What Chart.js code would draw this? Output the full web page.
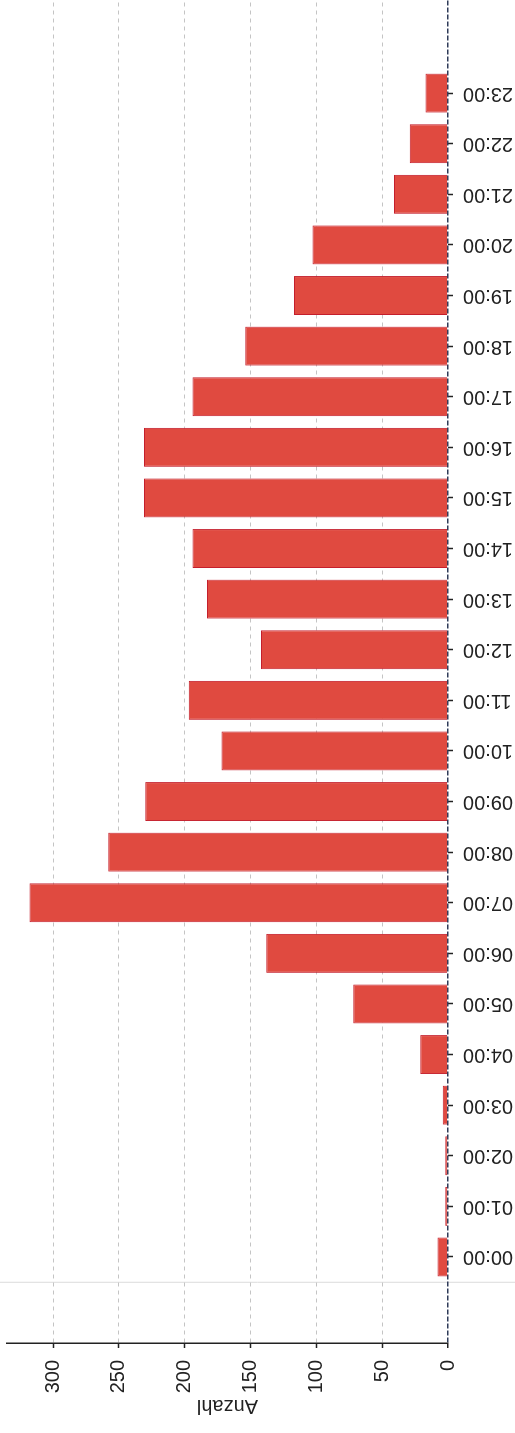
<!DOCTYPE html>
<html>
<head>
<meta charset="utf-8">
<script src="https://cdn.jsdelivr.net/npm/chart.js@4.4.0/dist/chart.umd.min.js"></script>
<style>
  html, body { margin: 0; padding: 0; background: #fff; overflow: hidden; }
  #wrap {
    position: absolute; left: 0; top: 0;
    width: 1433px; height: 515px;
    transform-origin: 0 0;
    transform: translateY(1433px) rotate(-90deg);
  }
</style>
</head>
<body>
<div id="wrap"><canvas id="chart" width="1433" height="515"></canvas></div>
<script>
// Stunden und Anzahl pro Stunde
var hours = ['00:00', '01:00', '02:00', '03:00', '04:00', '05:00', '06:00', '07:00',
             '08:00', '09:00', '10:00', '11:00', '12:00', '13:00', '14:00', '15:00',
             '16:00', '17:00', '18:00', '19:00', '20:00', '21:00', '22:00', '23:00'];
var counts = [8, 2, 2, 4, 21, 72, 138, 318, 258, 230, 172, 197,
              142, 183, 194, 231, 231, 194, 154, 117, 103, 41, 29, 17];
var yTicks = [0, 50, 100, 150, 200, 250, 300];

Chart.defaults.font.family = '"Liberation Sans", Arial, sans-serif';
Chart.defaults.font.size = 20;
Chart.defaults.color = '#222';

var points = [];
for (var i = 0; i < hours.length; i++) {
    points.push({x: i, y: counts[i]});
}

// feine Linie am Rand der ersten Stunde
var edgeLine = {
    id: 'edgeLine',
    beforeDraw: function(chart) {
        var ctx = chart.ctx;
        var px = chart.scales.x.getPixelForValue(-0.5);
        ctx.save();
        ctx.strokeStyle = '#dcdcdc';
        ctx.lineWidth = 1;
        ctx.beginPath();
        ctx.moveTo(px, 0);
        ctx.lineTo(px, chart.height);
        ctx.stroke();
        ctx.restore();
    }
};

function noPadding(scale) {
    scale.paddingTop = 0;
    scale.paddingBottom = 0;
    scale.paddingLeft = 0;
    scale.paddingRight = 0;
}

var ctx = document.getElementById('chart');
new Chart(ctx, {
    type: 'bar',
    data: {
        datasets: [{
            label: 'Anzahl',
            data: points,
            backgroundColor: '#e04a40',
            borderColor: '#c41f2c',
            borderWidth: 1,
            barPercentage: 0.77,
            categoryPercentage: 1
        }]
    },
    options: {
        responsive: false,
        animation: false,
        layout: {padding: {top: 7, right: 0, bottom: 0, left: 0}},
        plugins: {legend: {display: false}, tooltip: {enabled: false}},
        scales: {
            x: {
                type: 'linear',
                offset: false,
                min: -1.7,
                max: 24.84,
                afterBuildTicks: function(scale) {
                    scale.ticks = hours.map(function(h, i) { return {value: i}; });
                },
                afterFit: function(scale) {
                    scale.height = 67;
                    noPadding(scale);
                },
                ticks: {
                    autoSkip: false,
                    minRotation: 90,
                    maxRotation: 90,
                    padding: 10,
                    callback: function(v) { return hours[v]; }
                },
                grid: {
                    offset: false,
                    drawOnChartArea: false,
                    drawTicks: true,
                    tickLength: 5,
                    tickColor: '#222',
                    tickWidth: 1.5
                },
                border: {display: false}
            },
            y: {
                min: 0,
                max: 335,
                afterBuildTicks: function(scale) {
                    scale.ticks = yTicks.map(function(v) { return {value: v}; });
                },
                afterFit: function(scale) {
                    scale.width = 90;
                    noPadding(scale);
                },
                ticks: {padding: 12},
                title: {
                    display: true,
                    text: 'Anzahl',
                    font: {size: 20},
                    padding: {top: 15, bottom: 1}
                },
                grid: {
                    color: function(c) { return c.tick && c.tick.value === 0 ? '#2f3b58' : '#c4c4c4'; },
                    lineWidth: function(c) { return c.tick && c.tick.value === 0 ? 1.5 : 1; },
                    tickLength: 5,
                    tickColor: '#222',
                    tickWidth: 1.5
                },
                border: {
                    display: true,
                    color: '#222',
                    width: 1.5,
                    dash: function(c) { return c.tick && c.tick.value === 0 ? [5, 2] : [4, 4]; }
                }
            }
        }
    },
    plugins: [edgeLine]
});
</script>
</body>
</html>
